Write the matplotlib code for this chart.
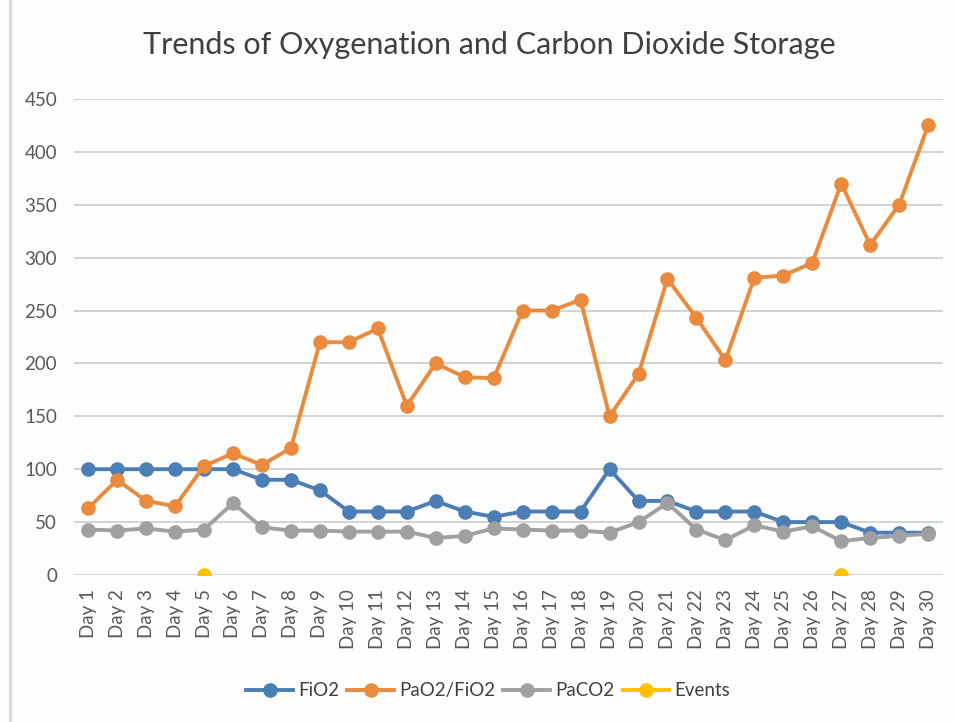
import numpy as np
import matplotlib.pyplot as plt
from matplotlib.lines import Line2D

days = [f"Day {i}" for i in range(1, 31)]

fio2 = [100, 100, 100, 100, 100, 100, 90, 90, 80, 60,
        60, 60, 70, 60, 55, 60, 60, 60, 100, 70,
        70, 60, 60, 60, 50, 50, 50, 40, 40, 40]

pao2_fio2 = [63, 90, 70, 65, 103, 115, 104, 120, 220, 220,
             233, 160, 200, 187, 186, 250, 250, 260, 150, 190,
             280, 243, 203, 281, 283, 295, 370, 312, 350, 425]

paco2 = [43, 42, 44, 41, 43, 68, 45, 42, 42, 41,
         41, 41, 35, 37, 44, 43, 42, 42, 40, 50,
         68, 43, 33, 47, 41, 46, 32, 35, 37, 39]

events = [np.nan] * 30
events[4] = 0
events[26] = 0

plt.rcParams['font.family'] = ['Lato', 'DejaVu Sans']

fig = plt.figure(figsize=(9.57, 7.22), dpi=100)
fig.patch.set_facecolor('#fdfdfe')
ax = fig.add_axes([0.077, 0.2036, 0.908, 0.6594])
ax.set_facecolor('#fdfdfe')

x = np.arange(len(days))
style = dict(linewidth=2.8, marker='o', markersize=9.5)
ax.plot(x, fio2, color='#4a7eb4', label='FiO2', **style)
ax.plot(x, pao2_fio2, color='#e98a3c', label='PaO2/FiO2', **style)
ax.plot(x, paco2, color='#a0a0a0', label='PaCO2', **style)
ax.plot(x, events, color='#ffc000', label='Events', **style)

ax.set_xlim(-0.5, len(days) - 0.5)
ax.set_ylim(0, 450)
ax.set_yticks(range(0, 451, 50))
ax.set_xticks(x)
ax.set_xticklabels(days, rotation=90, fontsize=13.5, color='#595959')
ax.tick_params(axis='y', labelsize=13.5, colors='#595959', length=0, pad=12)
ax.tick_params(axis='x', length=0, pad=10)
ax.grid(axis='y', color='#d0d0d0', linewidth=1.3)
ax.set_axisbelow(True)
for s in ax.spines.values():
    s.set_visible(False)

fig.text(0.511, 0.937, "Trends of Oxygenation and Carbon Dioxide Storage",
         ha='center', va='center', fontsize=22, color='#404040')

fig.legend(loc='center', bbox_to_anchor=(0.51, 0.043), ncol=4, frameon=False,
           fontsize=13.5, handlelength=2.5, handletextpad=0.25, columnspacing=0.45,
           labelcolor='#404040')

# faint chart border on the left edge
fig.add_artist(Line2D([0.0105, 0.0105], [0, 1], transform=fig.transFigure,
                      color='#d9d9d9', linewidth=2))

fig.savefig('out.png', dpi=100, facecolor=fig.get_facecolor())
